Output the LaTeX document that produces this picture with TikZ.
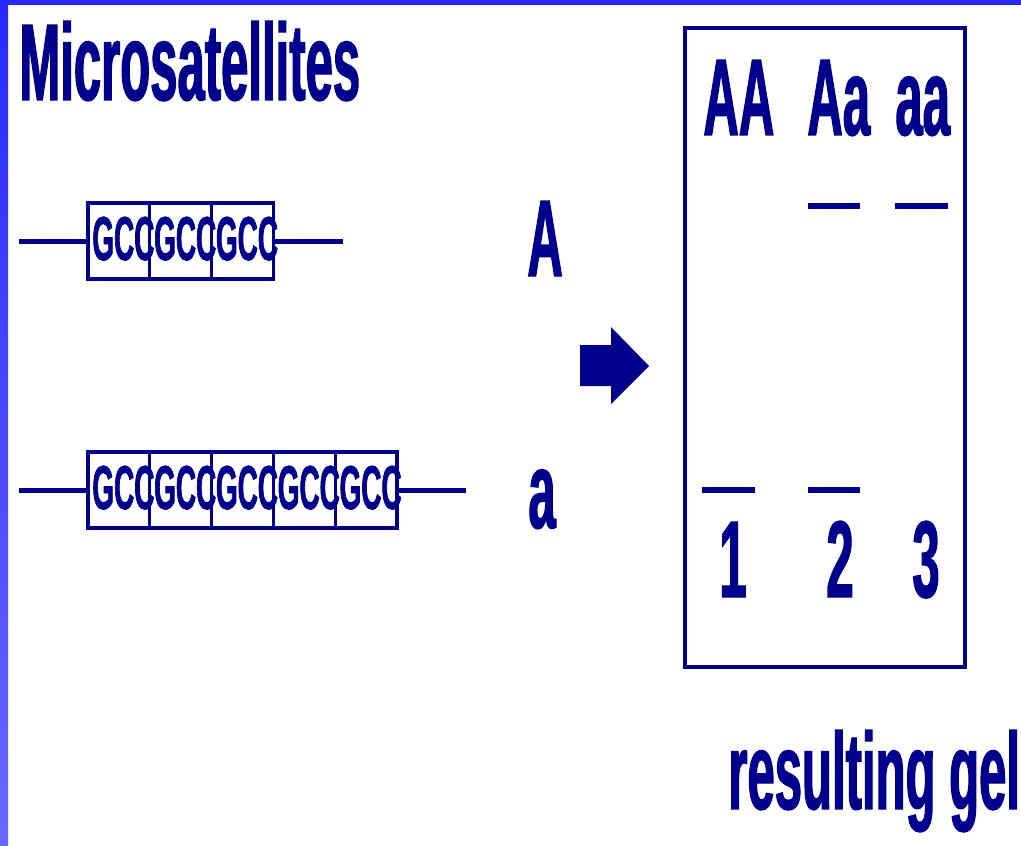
\documentclass[tikz,border=0pt]{standalone}
\usepackage{fontspec}
\newfontfamily\slidefont[FakeStretch=0.45, FakeBold=1.1]{Liberation Sans}
\definecolor{navy}{RGB}{0,0,140}
\definecolor{slideblue}{RGB}{40,40,255}
\definecolor{slidelight}{RGB}{104,104,255}
\tikzset{
  big/.style={text=navy, inner sep=0, font=\slidefont\bfseries\fontsize{54.5}{60}\selectfont},
  rep/.style={text=navy, inner sep=0, font=\slidefont\bfseries\fontsize{31}{36}\selectfont},
  repbox/.style={draw=navy, line width=1.6pt, minimum width=30.9pt, minimum height=38pt,
    inner sep=0, outer sep=0, anchor=north west},
  strand/.style={navy, line width=2.5pt},
  band/.style={navy, line width=3pt},
  gelframe/.style={draw=navy, line width=1.8pt, minimum width=140pt, minimum height=319.5pt,
    inner sep=0, outer sep=0, anchor=north west},
}
\begin{document}
\begin{tikzpicture}[x=0.5pt, y=-0.5pt]
\useasboundingbox (0,0) rectangle (1021,845);
\fill[white] (0,0) rectangle (1021,845);
\shade[top color=slideblue, bottom color=slidelight] (0,0) rectangle (8,845);
\fill[slideblue] (0,0) rectangle (1021,5);

\node[big, anchor=base west] (title) at (19,100) {Microsatellites};

% allele A, three repeats
\foreach \i in {0,1,2} {
  \node[repbox] (u\i) at (88+61.8*\i,203) {};
  \node[rep, anchor=base west] at ([shift={(2pt,9.5pt)}]u\i.south west) {GCC};
}
\coordinate (uL) at (19,241);
\coordinate (uR) at (343,241);
\draw[strand] (uL) -- (u0.west);
\draw[strand] (u2.east) -- (uR);
\node[big, anchor=base west] (alA) at (527,276) {A};

% allele a, five repeats
\foreach \i in {0,...,4} {
  \node[repbox] (d\i) at (88+61.8*\i,452) {};
  \node[rep, anchor=base west] at ([shift={(2pt,9.5pt)}]d\i.south west) {GCC};
}
\coordinate (dL) at (19,490);
\coordinate (dR) at (466,490);
\draw[strand] (dL) -- (d0.west);
\draw[strand] (d4.east) -- (dR);
\node[big, anchor=base west] (ala) at (528,528) {a};

\fill[navy] (580,345) -- (611,345) -- (611,327) -- (649,366) -- (611,404) -- (611,386) -- (580,386) -- cycle;

% gel
\node[gelframe] (gel) at (685,28) {};
\node[big, anchor=base west] (gAA) at (703,135) {AA};
\node[big, anchor=base west] (gAa) at (807,135) {Aa};
\node[big, anchor=base west] (gaa) at (895,135) {aa};
\draw[band] (808,206) -- (860,206);
\draw[band] (895,206) -- (948,206);
\draw[band] (702,490) -- (755,490);
\draw[band] (808,490) -- (860,490);
\node[big, anchor=base] (n1) at (733,597) {1};
\node[big, anchor=base] (n2) at (840,597) {2};
\node[big, anchor=base] (n3) at (926,597) {3};

\node[big, anchor=base west] (caption) at (728,809) {resulting gel};
\end{tikzpicture}
\end{document}
